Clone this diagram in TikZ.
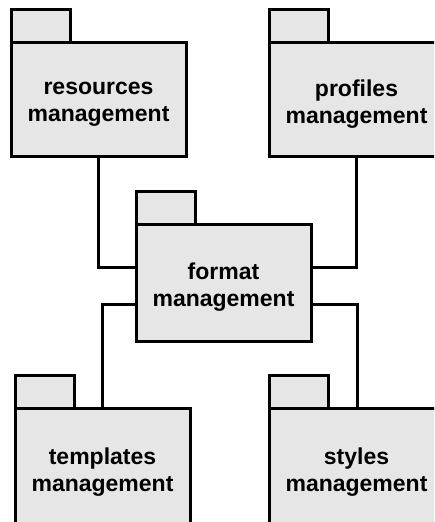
\documentclass[tikz,border=0pt]{standalone}
\usepackage{fontspec}
\setmainfont{Liberation Sans}
\definecolor{pkgfill}{HTML}{E6E6E6}
\begin{document}
\begin{tikzpicture}[x=1pt,y=-1pt,
  pkgbody/.style={draw=black, fill=pkgfill, line width=3pt, outer sep=0pt, inner sep=0pt,
    minimum width=175pt, anchor=north west},
  pkgname/.style={label={[align=center, yshift=-5pt,
    font=\fontsize{23}{27}\selectfont\bfseries]center:#1}},
  pkgtab/.style={draw=black, fill=pkgfill, line width=3pt, outer sep=0pt, inner sep=0pt,
    minimum width=59pt, minimum height=33pt, anchor=south west},
  link/.style={draw=black, line width=3pt}]
\clip (0,0) rectangle (434,522);
\fill[white] (0,0) rectangle (434,522);
% packages
\node[pkgbody, minimum height=114pt, pkgname={resources\\management}] (res) at (11,42) {};
\node[pkgtab] (restab) at (res.north west) {};
\node[pkgbody, minimum height=114pt, pkgname={profiles\\management}] (pro) at (269,42) {};
\node[pkgtab] (protab) at (pro.north west) {};
\node[pkgbody, minimum height=117pt, pkgname={format\\management}] (fmt) at (136,224) {};
\node[pkgtab] (fmttab) at (fmt.north west) {};
\node[pkgbody, minimum height=118pt, pkgname={templates\\management}] (tmp) at (15,408) {};
\node[pkgtab] (tmptab) at (tmp.north west) {};
\node[pkgbody, minimum height=118pt, pkgname={styles\\management}] (sty) at (269,408) {};
\node[pkgtab] (stytab) at (sty.north west) {};
% connectors
\draw[link] (res.south) |- ([yshift=15.5pt]fmt.west);
\draw[link] (pro.south) |- ([yshift=15.5pt]fmt.east);
\draw[link] ([yshift=-21.5pt]fmt.west) -| (tmp.north);
\draw[link] ([yshift=-21.5pt]fmt.east) -| ([xshift=1pt]sty.north);
\end{tikzpicture}
\end{document}
